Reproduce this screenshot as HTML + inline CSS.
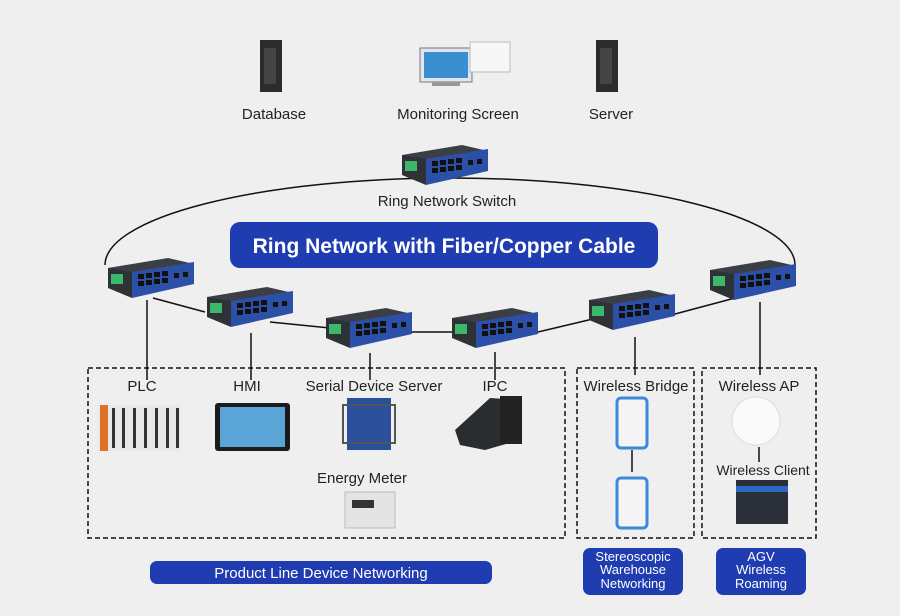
<!DOCTYPE html>
<html><head><meta charset="utf-8"><style>
html,body{margin:0;padding:0;background:#efefef;}
svg{display:block;font-family:"Liberation Sans",sans-serif;}
</style></head><body>
<svg width="900" height="616" viewBox="0 0 900 616" xmlns="http://www.w3.org/2000/svg">
<defs>
<g id="sw">
<polygon points="0,10 60,0 86,6 86,14 24,26 0,18" fill="#3b3e44"/>
<polygon points="24,14 86,4 86,26 24,40" fill="#2c4fa8"/>
<polygon points="0,10 24,14 24,40 0,30" fill="#2e3136"/>
<rect x="3" y="16" width="12" height="10" fill="#3bb86a"/>
<g fill="#111">
<rect x="30" y="16" width="6" height="5"/><rect x="38" y="15" width="6" height="5"/><rect x="46" y="14" width="6" height="5"/><rect x="54" y="13" width="6" height="5"/>
<rect x="30" y="23" width="6" height="5"/><rect x="38" y="22" width="6" height="5"/><rect x="46" y="21" width="6" height="5"/><rect x="54" y="20" width="6" height="5"/>
<rect x="66" y="15" width="5" height="5"/><rect x="75" y="14" width="5" height="5"/>
</g>
</g>
<g id="panel">
<rect x="0" y="0" width="30" height="50" rx="4" fill="#f4f4f4" stroke="#3a8ae0" stroke-width="3"/>
</g>
</defs>
<rect width="900" height="616" fill="#efefef"/>
<!-- top devices -->
<rect x="260" y="40" width="22" height="52" fill="#2a2c30"/><rect x="264" y="48" width="12" height="36" fill="#444"/>
<rect x="596" y="40" width="22" height="52" fill="#2a2c30"/><rect x="600" y="48" width="12" height="36" fill="#444"/>
<rect x="420" y="48" width="52" height="34" fill="#dfe6ee" stroke="#777"/><rect x="424" y="52" width="44" height="26" fill="#3b8fd0"/>
<rect x="432" y="82" width="28" height="4" fill="#999"/>
<rect x="470" y="42" width="40" height="30" fill="#f7f7f7" stroke="#bbb"/>
<g font-size="15" fill="#222" text-anchor="middle">
<text x="274" y="119">Database</text>
<text x="458" y="119">Monitoring Screen</text>
<text x="611" y="119">Server</text>
<text x="447" y="206">Ring Network Switch</text>
</g>
<!-- ring -->
<path d="M105,265 A345,87 0 0 1 795,265" fill="none" stroke="#111" stroke-width="1.5"/>
<g stroke="#111" stroke-width="1.5" fill="none">
<line x1="153" y1="298" x2="205" y2="312"/>
<line x1="270" y1="322" x2="330" y2="328"/>
<line x1="412" y1="332" x2="455" y2="332"/>
<line x1="538" y1="332" x2="597" y2="318"/>
<line x1="675" y1="314" x2="735" y2="298"/>
<line x1="147" y1="300" x2="147" y2="380"/>
<line x1="251" y1="333" x2="251" y2="380"/>
<line x1="370" y1="353" x2="370" y2="380"/>
<line x1="495" y1="352" x2="495" y2="380"/>
<line x1="635" y1="337" x2="635" y2="375"/>
<line x1="760" y1="302" x2="760" y2="375"/>
<line x1="632" y1="450" x2="632" y2="472"/>
<line x1="759" y1="447" x2="759" y2="462"/>
</g>
<use href="#sw" x="402" y="145"/>
<use href="#sw" x="108" y="258"/>
<use href="#sw" x="207" y="287"/>
<use href="#sw" x="326" y="308"/>
<use href="#sw" x="452" y="308"/>
<use href="#sw" x="589" y="290"/>
<use href="#sw" x="710" y="260"/>
<!-- banner -->
<rect x="230" y="222" width="428" height="46" rx="10" fill="#1f3cb0"/>
<text x="444" y="253" font-size="21" font-weight="bold" fill="#fff" text-anchor="middle">Ring Network with Fiber/Copper Cable</text>
<!-- dashed boxes -->
<g fill="none" stroke="#111" stroke-width="1.5" stroke-dasharray="5,3">
<rect x="88" y="368" width="477" height="170"/>
<rect x="577" y="368" width="117" height="170"/>
<rect x="702" y="368" width="114" height="170"/>
</g>
<g font-size="15" fill="#222" text-anchor="middle">
<text x="142" y="391">PLC</text>
<text x="247" y="391">HMI</text>
<text x="374" y="391">Serial Device Server</text>
<text x="495" y="391">IPC</text>
<text x="636" y="391">Wireless Bridge</text>
<text x="759" y="391">Wireless AP</text>
<text x="763" y="475" font-size="14">Wireless Client</text>
<text x="362" y="483">Energy Meter</text>
</g>
<!-- devices -->
<g>
<rect x="98" y="405" width="82" height="46" fill="#e8e8e8"/>
<rect x="100" y="405" width="8" height="46" fill="#e0712a"/>
<g fill="#333"><rect x="112" y="408" width="3" height="40"/><rect x="122" y="408" width="3" height="40"/><rect x="133" y="408" width="3" height="40"/><rect x="144" y="408" width="3" height="40"/><rect x="155" y="408" width="3" height="40"/><rect x="166" y="408" width="3" height="40"/><rect x="176" y="408" width="3" height="40"/></g>
<rect x="215" y="403" width="75" height="48" rx="3" fill="#1b1b1b"/>
<rect x="220" y="407" width="65" height="40" fill="#5aa4d8"/>
<rect x="347" y="398" width="44" height="52" fill="#2b4f9a"/><rect x="343" y="405" width="52" height="38" fill="none" stroke="#555" stroke-width="2"/>
<polygon points="455,430 490,398 520,400 520,440 485,450 460,445" fill="#2a2d30"/><rect x="500" y="396" width="22" height="48" fill="#222"/>
<rect x="345" y="492" width="50" height="36" fill="#e4e4e4" stroke="#bbb"/><rect x="352" y="500" width="22" height="8" fill="#333"/>
<use href="#panel" x="617" y="398"/>
<use href="#panel" x="617" y="478"/>
<ellipse cx="756" cy="421" rx="24" ry="24" fill="#fafafa" stroke="#ddd"/>
<rect x="736" y="480" width="52" height="44" fill="#2a2f38"/><rect x="736" y="486" width="52" height="6" fill="#2f68c0"/>
</g>
<!-- bottom labels -->
<rect x="150" y="561" width="342" height="23" rx="7" fill="#1f3cb0"/>
<text x="321" y="578" font-size="15" fill="#fff" text-anchor="middle">Product Line Device Networking</text>
<rect x="583" y="548" width="100" height="47" rx="7" fill="#1f3cb0"/>
<g font-size="13" fill="#fff" text-anchor="middle">
<text x="633" y="561">Stereoscopic</text><text x="633" y="574">Warehouse</text><text x="633" y="588">Networking</text>
</g>
<rect x="716" y="548" width="90" height="47" rx="7" fill="#1f3cb0"/>
<g font-size="13" fill="#fff" text-anchor="middle">
<text x="761" y="561">AGV</text><text x="761" y="574">Wireless</text><text x="761" y="588">Roaming</text>
</g>
</svg>
</body></html>
